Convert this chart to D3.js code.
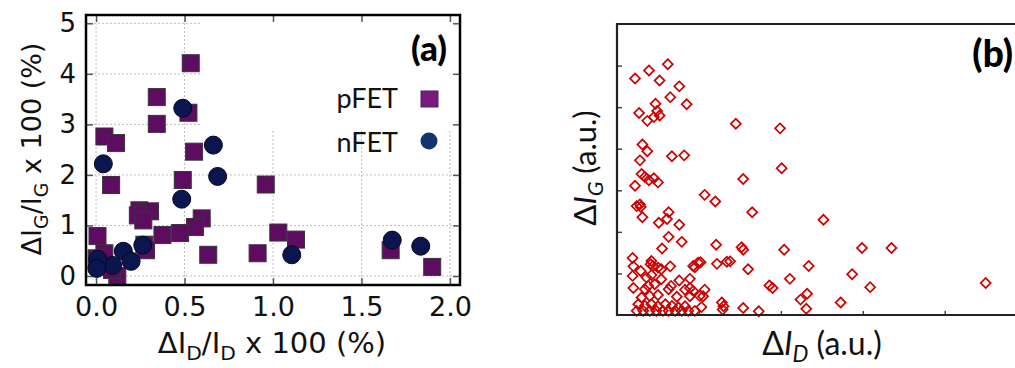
<!DOCTYPE html>
<html>
<head>
<meta charset="utf-8">
<script src="https://cdn.jsdelivr.net/npm/d3@7"></script>
<style>
  body { margin: 0; background: #fff; }
  svg { display: block; }
</style>
</head>
<body>
<svg id="fig" width="1015" height="368"></svg>
<script>
// ---- Panel (a): relative gate-current vs drain-current change ----
const pfetX = [0.535, 0.343, 0.522, 0.343, 0.047, 0.113, 0.554, 0.085, 0.49, 0.959,
               0.245, 0.305, 0.236, 0.267, 0.597, 0.559, 0.008, 0.375, 0.475, 1.03,
               1.13, 0.634, 0.913, 1.665, 1.90, 0.273, 0.282, 0.047, 0.003, 0.12, 0.09];
const pfetY = [4.21, 3.54, 3.23, 3.01, 2.76, 2.63, 2.46, 1.80, 1.90, 1.81,
               1.30, 1.28, 1.20, 1.10, 1.14, 0.97, 0.79, 0.81, 0.85, 0.86,
               0.72, 0.42, 0.45, 0.51, 0.18, 0.62, 0.51, 0.45, 0.35, 0.0, 0.12];
const nfetX = [0.49, 0.663, 0.041, 0.687, 0.484, 0.264, 0.154, 0.198, 0.094, 0.01,
               0.004, 1.106, 1.674, 1.835];
const nfetY = [3.32, 2.59, 2.22, 1.97, 1.52, 0.61, 0.49, 0.29, 0.21, 0.33,
               0.15, 0.42, 0.71, 0.59];
const xTicksA = [0, 0.5, 1.0, 1.5, 2.0];
const yTicksA = [0, 1, 2, 3, 4, 5];
const seriesA = ["pFET", "nFET"];

// ---- Panel (b): absolute changes (arbitrary units) ----
const bX = [0.22, 0.39, 0.62, 0.52, 0.76, 0.65, 0.85, 0.47, 0.27, 0.49,
            0.37, 0.45, 0.52, 1.45, 1.99, 0.31, 0.37, 0.28, 0.67, 0.82,
            2.01, 0.30, 0.34, 0.39, 0.45, 0.50, 0.22, 1.54, 1.07, 1.20,
            0.24, 0.28, 0.29, 0.31, 0.63, 0.61, 0.51, 1.65, 0.76, 0.63,
            0.79, 0.55, 1.21, 1.52, 1.54, 2.04, 0.19, 0.20, 1.02, 0.95,
            1.22, 1.38, 1.60, 2.34, 0.19, 0.20, 2.11, 1.86, 1.90, 2.24,
            2.32, 2.31, 1.73, 1.54, 1.28, 1.30, 1.29, 1.07, 1.05, 1.03,
            0.89, 0.76, 0.66, 0.83, 0.89, 0.93, 0.89, 2.52, 2.99, 3.35,
            2.87, 3.09, 2.73, 4.50, 0.42, 0.41, 0.44, 0.29, 0.50, 0.54,
            0.65, 0.93, 0.99, 1.34, 0.36, 0.42, 0.54, 0.34, 0.38, 0.46,
            0.63, 0.30, 0.40, 0.50, 0.73, 1.01, 0.26, 0.34, 0.42, 0.50,
            0.59, 0.67, 0.75, 0.83, 0.24, 0.32, 0.40, 0.48, 0.56, 0.63,
            0.71, 0.79, 0.87, 0.95];
const bY = [5.69, 5.88, 6.03, 5.64, 5.50, 5.24, 5.07, 5.08, 4.86, 4.91,
            4.67, 4.76, 4.80, 4.60, 4.49, 4.10, 3.94, 3.72, 3.82, 3.84,
            3.53, 3.39, 3.32, 3.24, 3.29, 3.19, 3.11, 3.27, 2.89, 2.73,
            2.62, 2.66, 2.60, 2.35, 2.47, 2.31, 2.22, 2.47, 2.17, 1.88,
            1.76, 1.60, 1.69, 1.63, 1.57, 1.57, 1.37, 1.17, 1.27, 1.15,
            1.23, 1.29, 1.10, 1.18, 0.94, 0.65, 0.87, 0.71, 0.65, 0.37,
            0.51, 0.15, 0.09, 0.17, 0.30, 0.21, 0.13, 0.61, 0.45, 0.19,
            0.87, 0.83, 0.70, 0.61, 0.65, 0.58, 0.45, 2.29, 1.61, 1.61,
            0.98, 0.67, 0.30, 0.77, 1.30, 1.22, 1.18, 1.06, 1.14, 1.10,
            1.17, 1.18, 1.26, 1.28, 0.90, 0.96, 0.86, 0.62, 0.70, 0.74,
            0.62, 0.42, 0.46, 0.48, 0.44, 0.46, 0.26, 0.22, 0.26, 0.21,
            0.26, 0.22, 0.18, 0.21, 0.10, 0.10, 0.10, 0.10, 0.10, 0.10,
            0.10, 0.10, 0.10, 0.10];
const xTicksB = [1, 2, 3, 4];
const yTicksB = [1, 2, 3, 4, 5, 6];

const svg = d3.select("#fig");
const tickFont = "'DejaVu Sans', sans-serif";

// ===================== Panel (a) =====================
const xA = d3.scaleLinear().domain([-0.057, 2.057]).range([86, 460]);
const yA = d3.scaleLinear().domain([-0.178, 5.164]).range([285, 15]);
const gA = svg.append("g");

// dotted grid
gA.append("g").selectAll("line").data(xTicksA).join("line")
  .attr("x1", d => xA(d)).attr("x2", d => xA(d))
  .attr("y1", yA.range()[0]).attr("y2", yA.range()[1])
  .attr("stroke", "#bdbdbd").attr("stroke-width", 1).attr("stroke-dasharray", "2,2");
gA.append("g").selectAll("line").data(yTicksA).join("line")
  .attr("x1", xA.range()[0]).attr("x2", xA.range()[1])
  .attr("y1", d => yA(d)).attr("y2", d => yA(d))
  .attr("stroke", "#bdbdbd").attr("stroke-width", 1).attr("stroke-dasharray", "2,2");

// opaque key area in the upper right
gA.append("rect")
  .attr("x", 200).attr("y", 16).attr("width", 259).attr("height", 114)
  .attr("fill", "#fff");

// axes with inward ticks, mirrored on top/right
function styleAxis(g) {
  g.select(".domain").remove();
  g.selectAll(".tick line").attr("stroke", "#555").attr("stroke-width", 1.5);
  g.selectAll(".tick text").attr("fill", "#111").attr("font-family", tickFont).attr("font-size", 26);
}
gA.append("g").attr("transform", `translate(0,${yA.range()[0]})`)
  .call(d3.axisBottom(xA).tickValues(xTicksA).tickFormat(d3.format(".1f"))
        .tickSizeInner(-7).tickSizeOuter(0).tickPadding(12))
  .call(styleAxis)
  .call(g => g.selectAll(".tick text").attr("font-size", 27));
gA.append("g").attr("transform", `translate(0,${yA.range()[1]})`)
  .call(d3.axisTop(xA).tickValues(xTicksA).tickFormat("")
        .tickSizeInner(-7).tickSizeOuter(0))
  .call(styleAxis);
gA.append("g").attr("transform", `translate(${xA.range()[0]},0)`)
  .call(d3.axisLeft(yA).tickValues(yTicksA).tickFormat(d3.format("d"))
        .tickSizeInner(-7).tickSizeOuter(0).tickPadding(10))
  .call(styleAxis);
gA.append("g").attr("transform", `translate(${xA.range()[1]},0)`)
  .call(d3.axisRight(yA).tickValues(yTicksA).tickFormat("")
        .tickSizeInner(-7).tickSizeOuter(0))
  .call(styleAxis);

// markers: pFET squares, then nFET circles on top
const sq = 17;
gA.append("g").selectAll("rect").data(d3.zip(pfetX, pfetY)).join("rect")
  .attr("x", d => xA(d[0]) - sq / 2).attr("y", d => yA(d[1]) - sq / 2)
  .attr("width", sq).attr("height", sq)
  .attr("fill", "#5e0c5f").attr("stroke", "#3a3340").attr("stroke-width", 1);
gA.append("g").selectAll("circle").data(d3.zip(nfetX, nfetY)).join("circle")
  .attr("cx", d => xA(d[0])).attr("cy", d => yA(d[1])).attr("r", 9)
  .attr("fill", "#0b1550").attr("stroke", "#05071c").attr("stroke-width", 1);

// frame
gA.append("rect")
  .attr("x", xA.range()[0]).attr("y", yA.range()[1])
  .attr("width", xA.range()[1] - xA.range()[0]).attr("height", yA.range()[0] - yA.range()[1])
  .attr("fill", "none").attr("stroke", "#000").attr("stroke-width", 2.5);

// key
const keyFont = "Lato, 'Open Sans', sans-serif";
const key = gA.append("g");
key.selectAll("text").data(seriesA).join("text")
  .attr("x", 398).attr("y", (d, i) => 108 + i * 44)
  .attr("text-anchor", "end").attr("font-family", keyFont).attr("font-size", 27)
  .attr("fill", "#111").text(d => d);
key.append("rect").attr("x", 421).attr("y", 91).attr("width", 17).attr("height", 16)
  .attr("fill", "#7a1a7c").attr("stroke", "#3b2a6a").attr("stroke-width", 1);
key.append("circle").attr("cx", 429).attr("cy", 141).attr("r", 8.5)
  .attr("fill", "#143470");

gA.append("text").attr("x", 447).attr("y", 61).attr("text-anchor", "end")
  .attr("font-family", keyFont).attr("font-weight", "900").attr("font-size", 35)
  .attr("fill", "#000").text("(a)");

// axis titles with subscripts
function ratioTitle(sel, sub) {
  sel.append("tspan").text("\u0394I");
  sel.append("tspan").attr("font-size", "70%").attr("dy", 7).text(sub);
  sel.append("tspan").attr("dy", -7).text("/I");
  sel.append("tspan").attr("font-size", "70%").attr("dy", 7).text(sub);
  sel.append("tspan").attr("dy", -7).text(" x 100 (%)");
}
gA.append("text").attr("x", 272).attr("y", 353).attr("text-anchor", "middle")
  .attr("font-family", tickFont).attr("font-size", 29).attr("fill", "#111")
  .call(ratioTitle, "D");
gA.append("text").attr("transform", "translate(41,149) rotate(-90)")
  .attr("text-anchor", "middle")
  .attr("font-family", tickFont).attr("font-size", 27).attr("fill", "#111")
  .call(ratioTitle, "G");

// ===================== Panel (b) =====================
const xB = d3.scaleLinear().domain([0, 4.87]).range([617, 1016]);
const yB = d3.scaleLinear().domain([0, 7]).range([315, 24]);
const gB = svg.append("g");

gB.append("g").attr("transform", `translate(0,${yB.range()[0]})`)
  .call(d3.axisBottom(xB).tickValues(xTicksB).tickFormat("")
        .tickSizeInner(-4).tickSizeOuter(0))
  .call(g => { g.select(".domain").remove(); g.selectAll(".tick line").attr("stroke", "#444").attr("stroke-width", 1.5); });
gB.append("g").attr("transform", `translate(${xB.range()[0]},0)`)
  .call(d3.axisLeft(yB).tickValues(yTicksB).tickFormat("")
        .tickSizeInner(-5).tickSizeOuter(0))
  .call(g => { g.select(".domain").remove(); g.selectAll(".tick line").attr("stroke", "#444").attr("stroke-width", 1.5); });

// diamond markers
const diamond = d3.symbol().type(d3.symbolSquare).size(50);
gB.append("g").selectAll("path").data(d3.zip(bX, bY)).join("path")
  .attr("d", diamond)
  .attr("transform", d => `translate(${xB(d[0])},${yB(d[1])}) rotate(45)`)
  .attr("fill", "none").attr("stroke", "#cc0000").attr("stroke-width", 1.7);

// frame: top, left, bottom (right side runs past the edge)
gB.append("path")
  .attr("d", `M${xB.range()[1] + 5},${yB.range()[1]} H${xB.range()[0]} V${yB.range()[0]} H${xB.range()[1] + 5}`)
  .attr("fill", "none").attr("stroke", "#222").attr("stroke-width", 2.2);

gB.append("text").attr("x", 1013).attr("y", 67).attr("text-anchor", "end")
  .attr("font-family", keyFont).attr("font-weight", "900").attr("font-size", 37)
  .attr("fill", "#000").text("(b)");

function absTitle(sel, sub) {
  sel.append("tspan").text("\u0394");
  sel.append("tspan").attr("font-style", "italic").text("I");
  sel.append("tspan").attr("font-style", "italic").attr("font-size", "70%").attr("dy", 7).text(sub);
  sel.append("tspan").attr("dy", -7).text(" (a.u.)");
}
gB.append("text").attr("x", 822).attr("y", 355).attr("text-anchor", "middle")
  .attr("font-family", keyFont).attr("font-size", 32).attr("fill", "#111")
  .call(absTitle, "D");
gB.append("text").attr("transform", "translate(596,168) rotate(-90)")
  .attr("text-anchor", "middle")
  .attr("font-family", keyFont).attr("font-size", 31).attr("fill", "#111")
  .call(absTitle, "G");
</script>
</body>
</html>
